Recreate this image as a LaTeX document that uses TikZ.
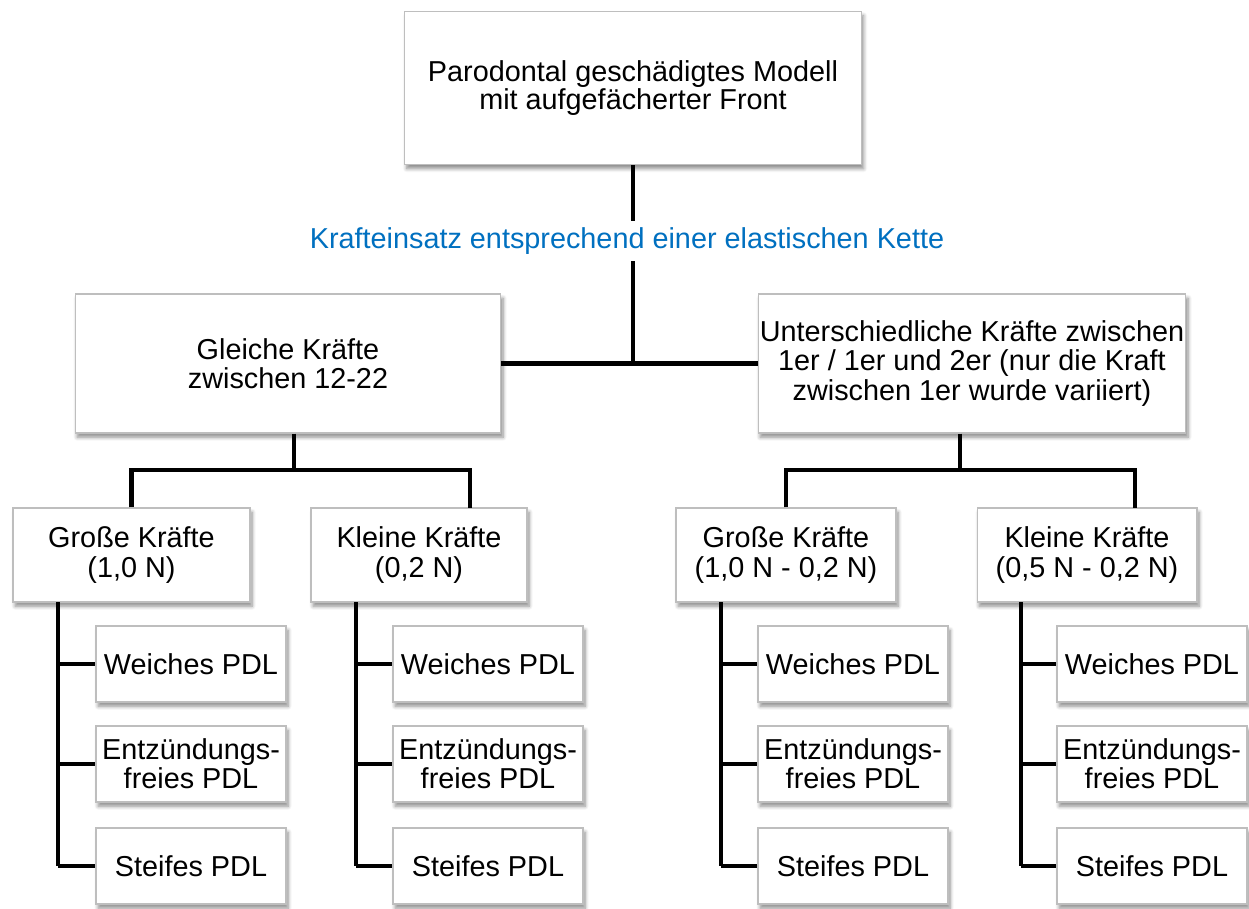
\documentclass[tikz,border=0pt]{standalone}
\usepackage{fontspec}
\setmainfont{Liberation Sans}
\usetikzlibrary{shadows.blur}
\definecolor{kettenblau}{RGB}{0,112,192}
\definecolor{rahmengrau}{RGB}{190,190,190}

\begin{document}
\begin{tikzpicture}[x=0.02cm, y=-0.02cm,
		kasten/.style={rectangle, draw=rahmengrau, line width=0.6pt, fill=white, align=center, inner sep=0pt,
			font=\fontsize{16.4}{16.6}\selectfont,
			blur shadow={shadow xshift=1.2pt, shadow yshift=-2.4pt, shadow blur steps=6, shadow opacity=45}},
		blatt/.style={kasten, minimum width=3.8cm, minimum height=1.52cm},
		linie/.style={line width=2.7pt}]
			\useasboundingbox (0,0) rectangle (1249,909);

			% oberste Ebene
			\node[kasten, minimum width=9.14cm, minimum height=3.06cm, font=\fontsize{16.4}{15.5}\selectfont] (modell) at (633,88) {Parodontal geschädigtes Modell\\mit aufgefächerter Front};
			\coordinate (mitte) at (633,363.5);
			\draw [linie](modell) -- (mitte);
			\node[fill=white, inner sep=4pt, text=kettenblau, font=\fontsize{16.4}{16.4}\selectfont] (kette) at (627,241) {Krafteinsatz entsprechend einer elastischen Kette};

			% zweite Ebene
			\node[kasten, minimum width=8.52cm, minimum height=2.78cm] (gleich) at (288,363.5) {Gleiche Kräfte\\zwischen 12-22};
			\node[kasten, minimum width=8.56cm, minimum height=2.78cm] (unter) at (972,363.5) {Unterschiedliche Kräfte zwischen\\1er / 1er und 2er (nur die Kraft\\zwischen 1er wurde variiert)};
			\draw [linie](gleich) -- (unter);

			% dritte Ebene
			\node[kasten, minimum width=4.74cm, minimum height=1.88cm] (g1) at (131.5,555) {Große Kräfte\\(1,0 N)};
			\node[kasten, minimum width=4.32cm, minimum height=1.88cm] (g2) at (419,555) {Kleine Kräfte\\(0,2 N)};
			\node[kasten, minimum width=4.40cm, minimum height=1.88cm] (u1) at (786,555) {Große Kräfte\\(1,0 N - 0,2 N)};
			\node[kasten, minimum width=4.40cm, minimum height=1.88cm] (u2) at (1087,555) {Kleine Kräfte\\(0,5 N - 0,2 N)};

			\coordinate (gknoten) at (294,470);
			\coordinate (g2ein) at (470,508);
			\draw [linie](gleich.south -| gknoten) -- (gknoten);
			\draw [linie](g1.north) |- (gknoten) -| (g2ein);

			\coordinate (uknoten) at (960,470);
			\coordinate (u2ein) at (1135,508);
			\draw [linie](unter.south -| uknoten) -- (uknoten);
			\draw [linie](u1.north) |- (uknoten) -| (u2ein);

			% PDL-Varianten
			\foreach \grp/\colx/\bx in {g1/58/191, g2/356/488, u1/721/853, u2/1021/1152} {
				\coordinate (\grp-col) at (\colx,602);
				\foreach \name/\yy/\txt in {w/664/{Weiches PDL}, e/764/{Entzündungs-\\freies PDL}, s/866/{Steifes PDL}} {
					\node[blatt] (\grp\name) at (\bx,\yy) {\txt};
					\draw [linie](\grp-col |- \grp\name.west) -- (\grp\name.west);
				}
				\draw [linie](\grp-col) -- (\grp-col |- \grp s.west);
			}

		\end{tikzpicture}
\end{document}
